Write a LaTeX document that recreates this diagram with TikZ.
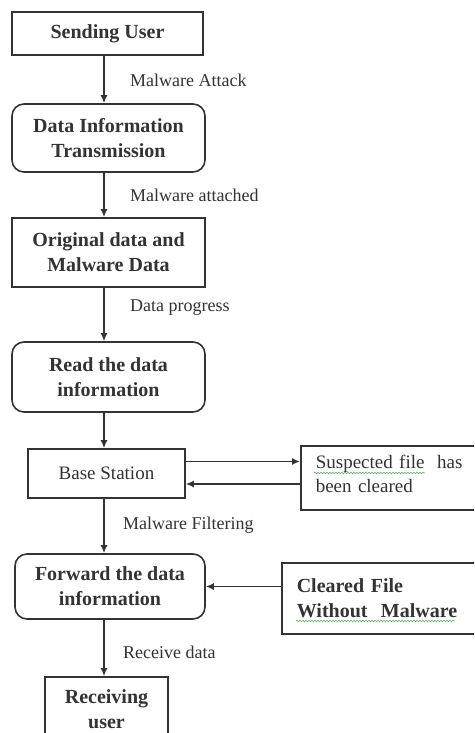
\documentclass[tikz,border=0pt]{standalone}
\usepackage{fontspec}
\setmainfont{Liberation Serif}
\usetikzlibrary{arrows.meta,decorations.pathmorphing}
\definecolor{ink}{HTML}{333333}
\definecolor{wavy}{HTML}{6AAF6A}
\begin{document}
\begin{tikzpicture}[x=1pt,y=-1pt,
  box/.style={draw=ink, line width=1.6pt, text=ink, align=center, inner sep=0pt,
    font=\bfseries\fontsize{20}{25}\selectfont},
  rbox/.style={box, rounded corners=12pt},
  sidebox/.style={box, align=left, text width=170pt, inner xsep=15pt, inner ysep=0pt, anchor=west},
  lbl/.style={anchor=west, text=ink, inner sep=0pt, font=\fontsize{18}{22}\selectfont},
  arr/.style={draw=ink, line width=1.6pt, -{Latex[length=8pt,width=7pt]}},
  squig/.style={draw=wavy, line width=0.6pt, decorate,
    decoration={snake, amplitude=0.8pt, segment length=3pt}}]
\clip (0,0) rectangle (474,733);
\fill[white] (0,0) rectangle (474,733);

\node[box, minimum width=191pt, minimum height=43pt] (send) at (107.5,33.5) {Sending User};
\node[rbox, minimum width=193pt, minimum height=68pt] (dit) at (108.5,138) {Data Information\\Transmission};
\node[box, minimum width=193pt, minimum height=69pt] (orig) at (108.5,252.5) {Original data and\\Malware Data};
\node[rbox, minimum width=193pt, minimum height=70pt] (read) at (108.5,377) {Read the data\\information};
\node[box, font=\fontsize{19}{24}\selectfont, minimum width=157pt, minimum height=49pt] (base) at (106.5,473.5) {Base Station};
\node[sidebox, font=\fontsize{19}{24}\selectfont, minimum height=64pt] (susp) at (300,478) {Suspected file\ \ has\\been cleared\rule[-8pt]{0pt}{8pt}};
\node[rbox, minimum width=190pt, minimum height=65pt] (fwd) at (110,586.5) {Forward the data\\information};
\node[sidebox, minimum height=71pt] (clear) at (281,598.5) {Cleared File\\Without\ \ Malware};
\node[box, minimum width=123pt, minimum height=64pt] (recv) at (106.5,709) {Receiving\\user};

\node[lbl] (l1) at (130,80) {Malware Attack};
\node[lbl] (l2) at (130,195) {Malware attached};
\node[lbl] (l3) at (130,308) {Data progress};
\node[lbl] (l4) at (123,525) {Malware Filtering};
\node[lbl] (l5) at (123,652) {Receive data};

\coordinate (spine) at (104,0);
\draw[arr] (send.south -| spine) -- (dit.north -| spine);
\draw[arr] (dit.south -| spine) -- (orig.north -| spine);
\draw[arr] (orig.south -| spine) -- (read.north -| spine);
\draw[arr] (read.south -| spine) -- (base.north -| spine);
\draw[arr] (base.south -| spine) -- (fwd.north -| spine);
\draw[arr] (fwd.south -| spine) -- (recv.north -| spine);

\draw[arr] ([yshift=12pt]base.east) -- ([yshift=12pt]base.east -| susp.west);
\draw[arr] ([yshift=-10.5pt]susp.west |- base.east) -- ([yshift=-10.5pt]base.east);
\draw[arr] (clear.west |- fwd.east) -- (fwd.east);

\draw[squig] (314,473) -- (425,473);
\draw[squig] (296,621) -- (455,621);
\end{tikzpicture}
\end{document}
